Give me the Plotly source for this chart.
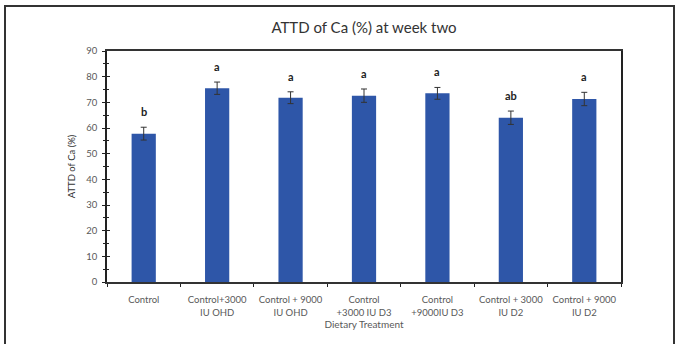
import plotly.graph_objects as go

# Dietary treatments and ATTD of Ca (%) at week two
treatments = [
    "Control",
    "Control+3000<br>IU OHD",
    "Control + 9000<br>IU OHD",
    "Control<br>+3000 IU D3",
    "Control<br>+9000IU D3",
    "Control + 3000<br>IU D2",
    "Control + 9000<br>IU D2",
]
attd_ca = [57.8, 75.5, 71.8, 72.6, 73.5, 64.0, 71.3]
sem = [2.5, 2.4, 2.3, 2.6, 2.3, 2.6, 2.6]
letters = ["b", "a", "a", "a", "a", "ab", "a"]

y_ticks = list(range(0, 91, 10))

FONT = "Lato, 'Open Sans', sans-serif"
BAR_COLOR = "#2E56A8"
GREY = "#595959"

fig = go.Figure()
fig.add_trace(go.Bar(
    x=treatments,
    y=attd_ca,
    width=0.33,
    marker=dict(color=BAR_COLOR, line=dict(width=0)),
    error_y=dict(type="data", array=sem, visible=True,
                 color="#333333", thickness=1, width=3),
    showlegend=False,
))

# significance letters above each error bar
for t, v, e, s in zip(treatments, attd_ca, sem, letters):
    fig.add_annotation(x=t, y=v + e, text=f"<b>{s}</b>", showarrow=False,
                       yanchor="bottom", yshift=7,
                       font=dict(family=FONT, size=11, color="#222222"))

fig.update_layout(
    width=680, height=344,
    margin=dict(l=107, r=59, t=51, b=62, autoexpand=False),
    paper_bgcolor="white", plot_bgcolor="white",
    font=dict(family=FONT, color=GREY),
    title=dict(text="ATTD of Ca (%) at week two", x=0.5, xref="paper",
               y=1 - 28 / 344, yanchor="middle",
               font=dict(family=FONT, size=15, color="#333333")),
    xaxis=dict(
        type="category", tickson="boundaries", ticks="outside", ticklen=3,
        tickcolor="#222222", showline=True, linecolor="#333333", linewidth=1.5,
        mirror=True, showgrid=False, ticklabelstandoff=8,
        tickfont=dict(family=FONT, size=9.5, color=GREY),
        title=dict(text="Dietary Treatment", standoff=2,
                   font=dict(family=FONT, size=10, color=GREY)),
    ),
    yaxis=dict(
        range=[0, 90], tickvals=y_ticks, ticks="outside", ticklen=3,
        tickcolor="#222222", showline=True, linecolor="#222222", linewidth=1.5,
        mirror=True, showgrid=False, zeroline=False, ticklabelstandoff=3,
        minor=dict(dtick=5, ticks="outside", ticklen=2, tickcolor="#222222"),
        tickfont=dict(family=FONT, size=9.5, color=GREY),
        title=dict(text="ATTD of Ca (%)", standoff=9,
                   font=dict(family=FONT, size=9.5, color="#333333")),
    ),
    # inward half of the crossing tick marks
    yaxis2=dict(
        range=[0, 90], tickvals=y_ticks, ticks="inside", ticklen=3,
        tickcolor="#222222", showticklabels=False, showgrid=False,
        zeroline=False, overlaying="y", side="left",
        minor=dict(dtick=5, ticks="inside", ticklen=2, tickcolor="#222222"),
    ),
)

# invisible trace to render the inward tick axis
fig.add_trace(go.Scatter(x=[treatments[0]], y=[0], yaxis="y2", mode="markers",
                         marker=dict(opacity=0), showlegend=False,
                         hoverinfo="skip"))

# outer frame around the whole figure
fig.add_shape(type="rect", xref="paper", yref="paper",
              x0=(5 - 107) / 514, x1=(674 - 107) / 514,
              y0=(282 - 360) / 231, y1=(282 - 6) / 231,
              line=dict(color="#333333", width=2), fillcolor="rgba(0,0,0,0)",
              layer="below")

fig.write_html("out.html")
